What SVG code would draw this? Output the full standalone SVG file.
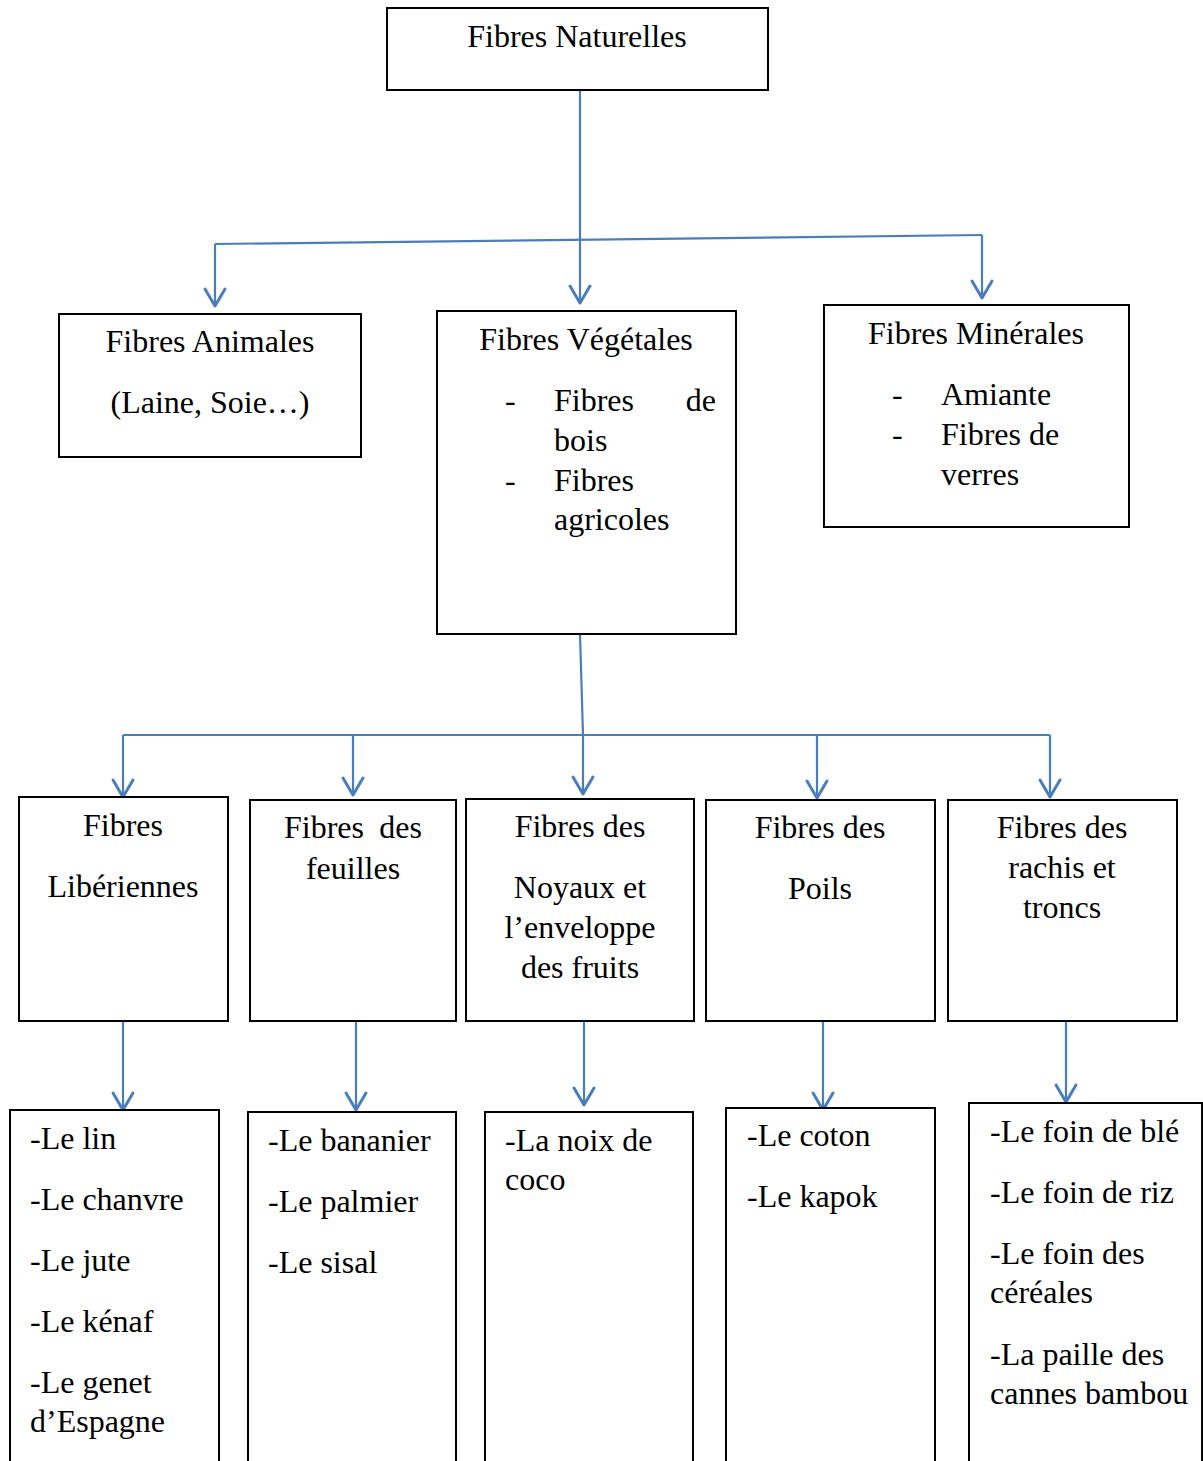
<svg xmlns="http://www.w3.org/2000/svg" width="1203" height="1461" viewBox="0 0 1203 1461">
<style>
.box{fill:#fff;stroke:#000;stroke-width:2}
text{font-family:"Liberation Serif","Times New Roman",serif;font-size:32px;fill:#000}
.c{text-anchor:middle}
.e{text-anchor:end}
.ln{stroke:#4A7EBB;stroke-width:2.2;fill:none}
.ah{stroke:#4A7EBB;stroke-width:3;fill:none;stroke-linecap:round;stroke-linejoin:round}
</style>
<defs>
<path id="arr" class="ah" d="M-10,-17 L0,0 L10,-17"/>
</defs>
<rect width="1203" height="1461" fill="#fff"/>

<g id="connectors">
<line class="ln" x1="580" y1="90" x2="580" y2="302"/>
<line class="ln" x1="215" y1="244" x2="982" y2="235"/>
<line class="ln" x1="215" y1="244" x2="215" y2="305"/>
<line class="ln" x1="982" y1="235" x2="982" y2="297"/>
<use href="#arr" x="215" y="306"/>
<use href="#arr" x="580" y="303"/>
<use href="#arr" x="982" y="298"/>

<line class="ln" x1="580" y1="634" x2="583" y2="735"/>
<line class="ln" x1="123" y1="735" x2="1050" y2="735"/>
<line class="ln" x1="123" y1="735" x2="123" y2="796"/>
<line class="ln" x1="353" y1="735" x2="353" y2="794"/>
<line class="ln" x1="583" y1="735" x2="583" y2="793"/>
<line class="ln" x1="817" y1="735" x2="817" y2="797"/>
<line class="ln" x1="1050" y1="735" x2="1050" y2="796"/>
<use href="#arr" x="123" y="797"/>
<use href="#arr" x="353" y="795"/>
<use href="#arr" x="583" y="794"/>
<use href="#arr" x="817" y="798"/>
<use href="#arr" x="1050" y="797"/>

<line class="ln" x1="123" y1="1021" x2="123" y2="1109"/>
<line class="ln" x1="356" y1="1021" x2="356" y2="1109"/>
<line class="ln" x1="584" y1="1021" x2="584" y2="1104"/>
<line class="ln" x1="823" y1="1021" x2="823" y2="1109"/>
<line class="ln" x1="1066" y1="1021" x2="1066" y2="1101"/>
<use href="#arr" x="123" y="1110"/>
<use href="#arr" x="356" y="1110"/>
<use href="#arr" x="584" y="1105"/>
<use href="#arr" x="823" y="1110"/>
<use href="#arr" x="1066" y="1102"/>
</g>

<g id="n-naturelles">
<rect class="box" x="387" y="8" width="381" height="82"/>
<text class="c" x="577" y="47">Fibres Naturelles</text>
</g>

<g id="n-animales">
<rect class="box" x="59" y="314" width="302" height="143"/>
<text class="c" x="210" y="352">Fibres Animales</text>
<text class="c" x="210" y="413">(Laine, Soie…)</text>
</g>

<g id="n-vegetales">
<rect class="box" x="437" y="311" width="299" height="323"/>
<text class="c" x="586" y="350">Fibres Végétales</text>
<text x="505" y="411">-</text>
<text x="554" y="411">Fibres</text>
<text class="e" x="716" y="411">de</text>
<text x="554" y="451">bois</text>
<text x="505" y="491">-</text>
<text x="554" y="491">Fibres</text>
<text x="554" y="530">agricoles</text>
</g>

<g id="n-minerales">
<rect class="box" x="824" y="305" width="305" height="222"/>
<text class="c" x="976" y="344">Fibres Minérales</text>
<text x="892" y="405">-</text>
<text x="941" y="405">Amiante</text>
<text x="892" y="445">-</text>
<text x="941" y="445">Fibres de</text>
<text x="941" y="485">verres</text>
</g>

<g id="n-liberiennes">
<rect class="box" x="19" y="797" width="209" height="224"/>
<text class="c" x="123" y="836">Fibres</text>
<text class="c" x="123" y="897">Libériennes</text>
</g>

<g id="n-feuilles">
<rect class="box" x="250" y="800" width="206" height="221"/>
<text x="284" y="838">Fibres</text>
<text class="e" x="422" y="838">des</text>
<text class="c" x="353" y="879">feuilles</text>
</g>

<g id="n-noyaux">
<rect class="box" x="466" y="799" width="228" height="222"/>
<text class="c" x="580" y="837">Fibres des</text>
<text class="c" x="580" y="898">Noyaux et</text>
<text class="c" x="580" y="938">l’enveloppe</text>
<text class="c" x="580" y="978">des fruits</text>
</g>

<g id="n-poils">
<rect class="box" x="706" y="800" width="229" height="221"/>
<text class="c" x="820" y="838">Fibres des</text>
<text class="c" x="820" y="899">Poils</text>
</g>

<g id="n-rachis">
<rect class="box" x="948" y="800" width="229" height="221"/>
<text class="c" x="1062" y="838">Fibres des</text>
<text class="c" x="1062" y="878">rachis et</text>
<text class="c" x="1062" y="918">troncs</text>
</g>

<g id="n-list-liberiennes">
<rect class="box" x="10" y="1110" width="209" height="370"/>
<text x="30" y="1149">-Le lin</text>
<text x="30" y="1210">-Le chanvre</text>
<text x="30" y="1271">-Le jute</text>
<text x="30" y="1332">-Le kénaf</text>
<text x="30" y="1393">-Le genet</text>
<text x="30" y="1432">d’Espagne</text>
</g>

<g id="n-list-feuilles">
<rect class="box" x="248" y="1112" width="208" height="370"/>
<text x="268" y="1151">-Le bananier</text>
<text x="268" y="1212">-Le palmier</text>
<text x="268" y="1273">-Le sisal</text>
</g>

<g id="n-list-noyaux">
<rect class="box" x="485" y="1112" width="208" height="370"/>
<text x="505" y="1151">-La noix de</text>
<text x="505" y="1190">coco</text>
</g>

<g id="n-list-poils">
<rect class="box" x="726" y="1108" width="209" height="370"/>
<text x="747" y="1146">-Le coton</text>
<text x="747" y="1207">-Le kapok</text>
</g>

<g id="n-list-rachis">
<rect class="box" x="969" y="1103" width="233" height="370"/>
<text x="990" y="1142">-Le foin de blé</text>
<text x="990" y="1203">-Le foin de riz</text>
<text x="990" y="1264">-Le foin des</text>
<text x="990" y="1303">céréales</text>
<text x="990" y="1365">-La paille des</text>
<text x="990" y="1404">cannes bambou</text>
</g>
</svg>
